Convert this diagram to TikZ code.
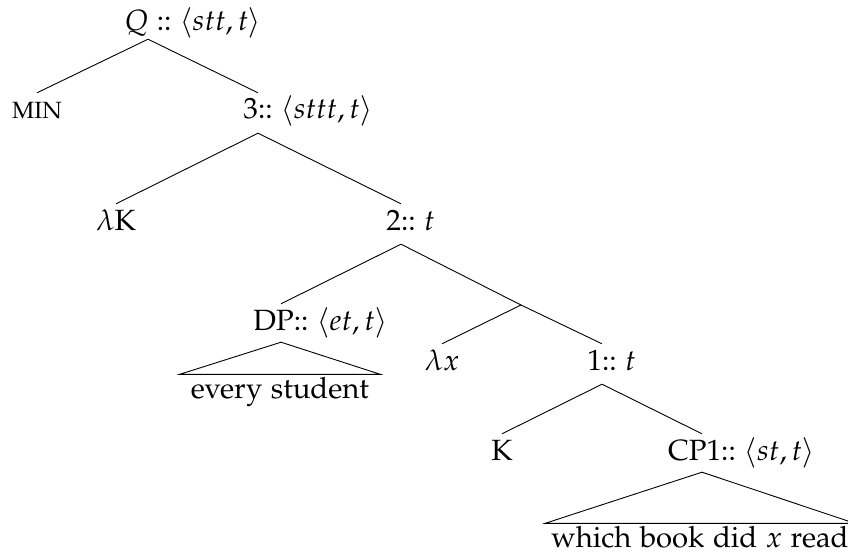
\documentclass[tikz,border=0pt]{standalone}
\usepackage[T1]{fontenc}
\usepackage[sc]{mathpazo}
\begin{document}
\begin{tikzpicture}[x=1pt,y=-1pt,
  tn/.style={inner sep=0pt, text height=26pt, text depth=14pt, anchor=base, font=\fontsize{29.3}{34}\selectfont},
  leaf/.style={tn, text height=23.5pt, text depth=8pt},
  edge/.style={line width=0.9pt}]
\useasboundingbox (0,0) rectangle (848,559);
% nodes
\node[tn, text depth=8pt] (q) at (148,31) {$Q$ ::\rlap{ $\langle stt,t\rangle$}};
\node[tn, font=\fontsize{23.5}{28}\selectfont] (min) at (37,119) {MIN};
\node[tn] (three) at (258,119) {3::\rlap{ $\langle sttt,t\rangle$}};
\node[tn] (lk) at (116,230) {$\lambda$K};
\node[tn] (two) at (401,230) {2::\rlap{ $t$}};
\node[tn, text depth=12pt] (dp) at (281,330) {DP::\rlap{ $\langle et,t\rangle$}};
\coordinate (j) at (521,305);
\node[tn] (lx) at (442,370) {$\lambda x$};
\node[tn] (one) at (602,370) {1::\rlap{ $t$}};
\node[tn] (k) at (502,460) {K};
\node[tn, text depth=12pt] (cp) at (702,460) {CP1::\rlap{ $\langle st,t\rangle$}};
\node[leaf, inner xsep=11pt] (es) at (280,398) {every student};
\node[leaf, inner xsep=6pt] (wb) at (700,547) {which book did $x$ read};
% edges
\draw[edge] (q.south) -- (min.north);
\draw[edge] (q.south) -- (three.north);
\draw[edge] (three.south) -- (lk.north);
\draw[edge] (three.south) -- (two.north);
\draw[edge] (two.south) -- (dp.north);
\draw[edge] (two.south) -- (j);
\draw[edge] (j) -- (lx.north);
\draw[edge] (j) -- (one.north);
\draw[edge] (one.south) -- (k.north);
\draw[edge] (one.south) -- (cp.north);
% triangles
\draw[edge] (dp.south) -- (es.north west) -- (es.north east) -- cycle;
\draw[edge] (cp.south) -- (wb.north west) -- (wb.north east) -- cycle;
\end{tikzpicture}
\end{document}
